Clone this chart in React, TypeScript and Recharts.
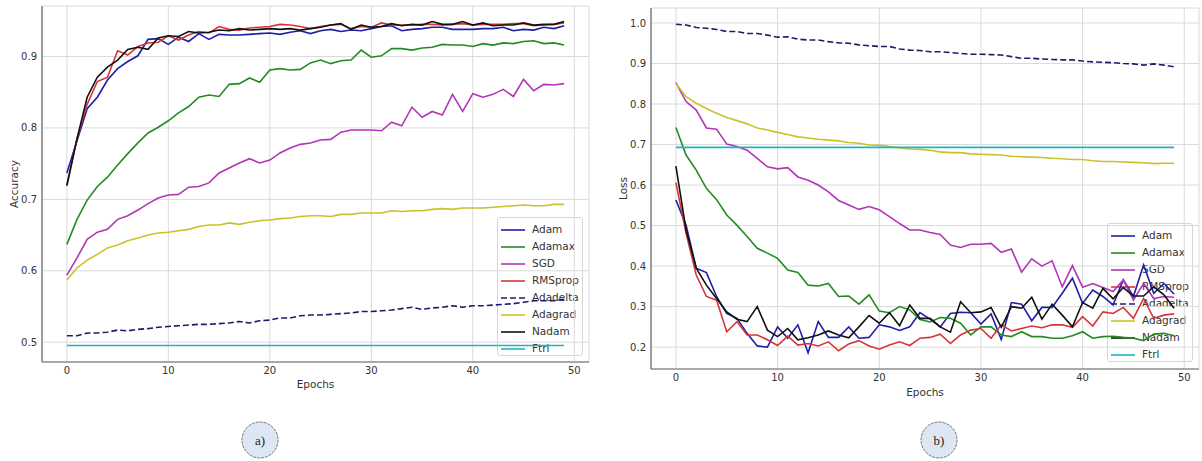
import React from 'react';
import { LineChart, Line, XAxis, YAxis, CartesianGrid } from 'recharts';

const EPOCHS = [0,1,2,3,4,5,6,7,8,9,10,11,12,13,14,15,16,17,18,19,20,21,22,23,24,25,26,27,28,29,30,31,32,33,34,35,36,37,38,39,40,41,42,43,44,45,46,47,48,49];
const X_TICKS = [0, 10, 20, 30, 40, 50];
const ACC_TICKS = [0.5, 0.6, 0.7, 0.8, 0.9];
const LOSS_TICKS = [0.2, 0.3, 0.4, 0.5, 0.6, 0.7, 0.8, 0.9, 1.0];

// Accuracy (panel a)
const accAdam = [0.737,0.782,0.827,0.843,0.867,0.883,0.893,0.901,0.924,0.925,0.917,0.927,0.921,0.932,0.924,0.931,0.930,0.930,0.931,0.932,0.933,0.931,0.934,0.936,0.932,0.936,0.938,0.935,0.937,0.936,0.939,0.942,0.943,0.936,0.938,0.939,0.941,0.941,0.938,0.938,0.938,0.939,0.939,0.941,0.936,0.938,0.937,0.941,0.939,0.943];
const accAdamax = [0.637,0.672,0.699,0.718,0.731,0.748,0.764,0.779,0.793,0.801,0.810,0.821,0.830,0.843,0.846,0.844,0.861,0.862,0.870,0.864,0.881,0.883,0.881,0.882,0.891,0.895,0.890,0.894,0.895,0.909,0.899,0.901,0.911,0.911,0.909,0.912,0.913,0.917,0.916,0.916,0.914,0.918,0.916,0.919,0.918,0.921,0.922,0.918,0.919,0.916];
const accSgd = [0.594,0.618,0.644,0.654,0.658,0.672,0.677,0.685,0.694,0.702,0.706,0.707,0.717,0.718,0.723,0.737,0.744,0.751,0.757,0.751,0.755,0.765,0.772,0.777,0.779,0.783,0.784,0.794,0.797,0.797,0.797,0.796,0.808,0.803,0.829,0.815,0.823,0.818,0.847,0.823,0.848,0.843,0.847,0.854,0.844,0.868,0.852,0.861,0.860,0.862];
const accRmsprop = [0.720,0.785,0.833,0.865,0.871,0.908,0.902,0.914,0.919,0.920,0.929,0.923,0.930,0.935,0.933,0.942,0.938,0.937,0.940,0.941,0.942,0.945,0.944,0.942,0.939,0.942,0.944,0.945,0.939,0.942,0.941,0.947,0.944,0.944,0.944,0.945,0.945,0.944,0.945,0.946,0.944,0.945,0.945,0.945,0.946,0.946,0.943,0.944,0.945,0.947];
const accAdadelta = [0.509,0.509,0.513,0.513,0.514,0.517,0.516,0.518,0.519,0.521,0.522,0.523,0.524,0.525,0.525,0.526,0.527,0.529,0.527,0.530,0.531,0.534,0.534,0.537,0.538,0.538,0.539,0.540,0.541,0.543,0.543,0.544,0.545,0.547,0.549,0.546,0.548,0.549,0.551,0.549,0.551,0.551,0.552,0.553,0.554,0.556,0.558,0.558,0.558,0.560];
const accAdagrad = [0.587,0.604,0.615,0.623,0.632,0.636,0.642,0.646,0.650,0.653,0.654,0.656,0.658,0.662,0.664,0.664,0.667,0.665,0.668,0.670,0.671,0.673,0.674,0.676,0.677,0.677,0.676,0.679,0.679,0.681,0.681,0.681,0.684,0.683,0.684,0.684,0.686,0.687,0.686,0.688,0.688,0.688,0.689,0.690,0.691,0.692,0.691,0.691,0.693,0.693];
const accNadam = [0.719,0.785,0.843,0.871,0.885,0.895,0.910,0.913,0.910,0.926,0.929,0.928,0.935,0.933,0.934,0.937,0.936,0.939,0.937,0.938,0.939,0.938,0.939,0.937,0.939,0.941,0.944,0.946,0.938,0.944,0.941,0.942,0.946,0.943,0.945,0.944,0.949,0.945,0.945,0.949,0.944,0.947,0.943,0.944,0.944,0.947,0.944,0.945,0.945,0.949];
const accFtrl = [0.4955,0.4955,0.4955,0.4955,0.4955,0.4955,0.4955,0.4955,0.4955,0.4955,0.4955,0.4955,0.4955,0.4955,0.4955,0.4955,0.4955,0.4955,0.4955,0.4955,0.4955,0.4955,0.4955,0.4955,0.4955,0.4955,0.4955,0.4955,0.4955,0.4955,0.4955,0.4955,0.4955,0.4955,0.4955,0.4955,0.4955,0.4955,0.4955,0.4955,0.4955,0.4955,0.4955,0.4955,0.4955,0.4955,0.4955,0.4955,0.4955,0.4955];

// Loss (panel b)
const lossAdam = [0.563,0.501,0.395,0.384,0.325,0.283,0.271,0.234,0.203,0.200,0.250,0.222,0.255,0.186,0.263,0.224,0.224,0.250,0.222,0.224,0.255,0.250,0.241,0.250,0.285,0.269,0.250,0.283,0.286,0.285,0.257,0.282,0.219,0.310,0.306,0.265,0.298,0.298,0.333,0.370,0.308,0.341,0.325,0.304,0.366,0.325,0.403,0.333,0.357,0.331];
const lossAdamax = [0.742,0.674,0.637,0.592,0.564,0.526,0.501,0.473,0.444,0.432,0.419,0.390,0.384,0.353,0.351,0.357,0.325,0.326,0.306,0.329,0.289,0.285,0.300,0.292,0.268,0.262,0.273,0.271,0.259,0.230,0.250,0.250,0.230,0.226,0.238,0.226,0.226,0.222,0.222,0.228,0.238,0.222,0.226,0.227,0.224,0.222,0.216,0.232,0.234,0.228];
const lossSgd = [0.853,0.806,0.785,0.741,0.738,0.701,0.695,0.686,0.666,0.645,0.640,0.643,0.620,0.612,0.600,0.583,0.562,0.551,0.540,0.547,0.539,0.522,0.505,0.489,0.489,0.483,0.478,0.452,0.446,0.454,0.454,0.456,0.434,0.442,0.385,0.418,0.400,0.413,0.349,0.401,0.348,0.357,0.347,0.337,0.366,0.316,0.357,0.320,0.325,0.323];
const lossRmsprop = [0.606,0.481,0.378,0.325,0.316,0.238,0.263,0.230,0.230,0.218,0.204,0.227,0.205,0.209,0.203,0.213,0.191,0.208,0.216,0.203,0.195,0.205,0.213,0.204,0.222,0.224,0.232,0.209,0.230,0.242,0.246,0.222,0.255,0.240,0.246,0.252,0.248,0.255,0.255,0.249,0.275,0.252,0.287,0.283,0.298,0.271,0.320,0.271,0.279,0.282];
const lossAdadelta = [0.997,0.995,0.989,0.987,0.984,0.979,0.979,0.974,0.974,0.970,0.965,0.966,0.960,0.958,0.958,0.954,0.951,0.950,0.946,0.944,0.942,0.942,0.936,0.933,0.932,0.929,0.929,0.927,0.925,0.923,0.923,0.922,0.921,0.917,0.913,0.913,0.911,0.910,0.909,0.909,0.906,0.904,0.903,0.902,0.900,0.899,0.896,0.899,0.896,0.892];
const lossAdagrad = [0.851,0.818,0.802,0.789,0.777,0.767,0.759,0.751,0.741,0.736,0.730,0.725,0.719,0.716,0.713,0.711,0.709,0.705,0.703,0.699,0.698,0.695,0.692,0.689,0.688,0.686,0.682,0.680,0.680,0.677,0.676,0.675,0.674,0.671,0.670,0.669,0.668,0.666,0.665,0.663,0.663,0.660,0.658,0.658,0.657,0.656,0.655,0.653,0.654,0.654];
const lossNadam = [0.647,0.489,0.395,0.353,0.320,0.287,0.269,0.263,0.300,0.242,0.226,0.246,0.218,0.223,0.230,0.240,0.230,0.223,0.250,0.278,0.259,0.285,0.253,0.304,0.271,0.271,0.250,0.237,0.312,0.285,0.287,0.298,0.249,0.300,0.296,0.323,0.269,0.306,0.279,0.250,0.310,0.296,0.345,0.319,0.347,0.326,0.326,0.349,0.329,0.296];
const lossFtrl = [0.6931,0.6931,0.6931,0.6931,0.6931,0.6931,0.6931,0.6931,0.6931,0.6931,0.6931,0.6931,0.6931,0.6931,0.6931,0.6931,0.6931,0.6931,0.6931,0.6931,0.6931,0.6931,0.6931,0.6931,0.6931,0.6931,0.6931,0.6931,0.6931,0.6931,0.6931,0.6931,0.6931,0.6931,0.6931,0.6931,0.6931,0.6931,0.6931,0.6931,0.6931,0.6931,0.6931,0.6931,0.6931,0.6931,0.6931,0.6931,0.6931,0.6931];

const NAMES = ['Adam', 'Adamax', 'SGD', 'RMSprop', 'Adadelta', 'Adagrad', 'Nadam', 'Ftrl'];
const ACC = [accAdam, accAdamax, accSgd, accRmsprop, accAdadelta, accAdagrad, accNadam, accFtrl];
const LOSS = [lossAdam, lossAdamax, lossSgd, lossRmsprop, lossAdadelta, lossAdagrad, lossNadam, lossFtrl];

const STYLE: Record<string, { color: string; dash?: string }> = {
  Adam: { color: '#1e1ea6' },
  Adamax: { color: '#228b22' },
  SGD: { color: '#b235b8' },
  RMSprop: { color: '#d63535' },
  Adadelta: { color: '#1c1c6c', dash: '6 3' },
  Adagrad: { color: '#c9c22a' },
  Nadam: { color: '#111111' },
  Ftrl: { color: '#1fb5bf' },
};

const buildRows = (arrays: number[][]) =>
  EPOCHS.map((e, i) => {
    const row: Record<string, number> = { epoch: e };
    NAMES.forEach((n, k) => { row[n] = arrays[k][i]; });
    return row;
  });

const accRows = buildRows(ACC);
const lossRows = buildRows(LOSS);

const FONT = '"DejaVu Sans", sans-serif';
const tickStyle = { fontSize: 10, fill: '#333', fontFamily: FONT };

function Legend({ left, top }: { left: number; top: number }) {
  return (
    <div
      style={{
        position: 'absolute', left, top, width: 86, height: 139,
        border: '1px solid #d6d6d6', borderRadius: 3, boxSizing: 'border-box',
        background: 'rgba(255,255,255,0.85)', fontFamily: FONT, fontSize: 10.5, color: '#333',
        zIndex: 0,
      }}
    >
      {NAMES.map((n, i) => (
        <div key={n} style={{ position: 'absolute', left: 3, top: 3 + i * 17, height: 17, display: 'flex', alignItems: 'center' }}>
          <svg width={24} height={6} style={{ display: 'block' }}>
            <line x1={0} y1={3} x2={24} y2={3} stroke={STYLE[n].color} strokeWidth={1.6} strokeDasharray={STYLE[n].dash} />
          </svg>
          <span style={{ marginLeft: 7, lineHeight: '17px', whiteSpace: 'nowrap' }}>{n}</span>
        </div>
      ))}
    </div>
  );
}

function Panel({ rows, yDomain, yTicks, yLabel, yWidth, width, right, top, xHeight, xLabelOffset, yLabelOffset }: any) {
  return (
    <LineChart width={width} height={400} data={rows} margin={{ top, right, bottom: 0, left: 0 }}>
      <CartesianGrid stroke="#dadada" strokeWidth={1} />
      <XAxis
        dataKey="epoch" type="number" domain={[-2.45, 51.45]} ticks={X_TICKS} allowDataOverflow
        height={xHeight} tickLine={false} tickSize={3} tickMargin={2}
        axisLine={{ stroke: '#666', strokeWidth: 1.2 }} tick={tickStyle}
        label={{ value: 'Epochs', position: 'insideBottom', offset: xLabelOffset, style: { fontSize: 10.5, fill: '#333', fontFamily: FONT } }}
      />
      <XAxis xAxisId="top" orientation="top" type="number" domain={[-2.45, 51.45]} height={0} tick={false} tickLine={false} axisLine={{ stroke: '#999' }} />
      <YAxis
        type="number" domain={yDomain} ticks={yTicks} allowDataOverflow width={yWidth}
        tickLine={false} tickSize={3} tickMargin={2} axisLine={{ stroke: '#666', strokeWidth: 1.2 }} tick={tickStyle}
        tickFormatter={(v: number) => v.toFixed(1)}
        label={{ value: yLabel, angle: -90, position: 'insideLeft', offset: yLabelOffset, style: { textAnchor: 'middle', fontSize: 10.5, fill: '#333', fontFamily: FONT } }}
      />
      <YAxis yAxisId="right" orientation="right" type="number" domain={yDomain} width={0} tick={false} tickLine={false} axisLine={{ stroke: '#999' }} />
      {NAMES.map((n) => (
        <Line
          key={n} dataKey={n} type="linear" dot={false} activeDot={false}
          stroke={STYLE[n].color} strokeWidth={1.6} strokeDasharray={STYLE[n].dash}
          isAnimationActive={false}
        />
      ))}
    </LineChart>
  );
}

function Badge({ cx, label }: { cx: number; label: string }) {
  return (
    <svg width={40} height={40} style={{ position: 'absolute', left: cx - 20, top: 420 }}>
      <circle cx={20} cy={20} r={18} fill="#dde7f3" stroke="#555" strokeWidth={0.8} strokeDasharray="3 1" />
      <text x={20} y={24.5} textAnchor="middle" fontFamily='"Liberation Serif", serif' fontSize={13} fill="#222">{label}</text>
    </svg>
  );
}

export default function App() {
  return (
    <div style={{ position: 'absolute', left: 0, top: 0, width: 1202, height: 461, background: '#fff', overflow: 'hidden' }}>
      <Legend left={497} top={217} />
      <Legend left={1107} top={223} />
      <div style={{ position: 'absolute', left: 0, top: 0, zIndex: 1 }}>
        <Panel rows={accRows} yDomain={[0.4723, 0.9707]} yTicks={ACC_TICKS} yLabel="Accuracy" yWidth={42}
          width={600} right={11} top={6} xHeight={38} xLabelOffset={12} yLabelOffset={14} />
      </div>
      <div style={{ position: 'absolute', left: 600, top: 0, zIndex: 1 }}>
        <Panel rows={lossRows} yDomain={[0.146, 1.037]} yTicks={LOSS_TICKS} yLabel="Loss" yWidth={51}
          width={602} right={3} top={8} xHeight={31} xLabelOffset={4} yLabelOffset={23} />
      </div>
      <Badge cx={260} label="a)" />
      <Badge cx={939} label="b)" />
    </div>
  );
}
